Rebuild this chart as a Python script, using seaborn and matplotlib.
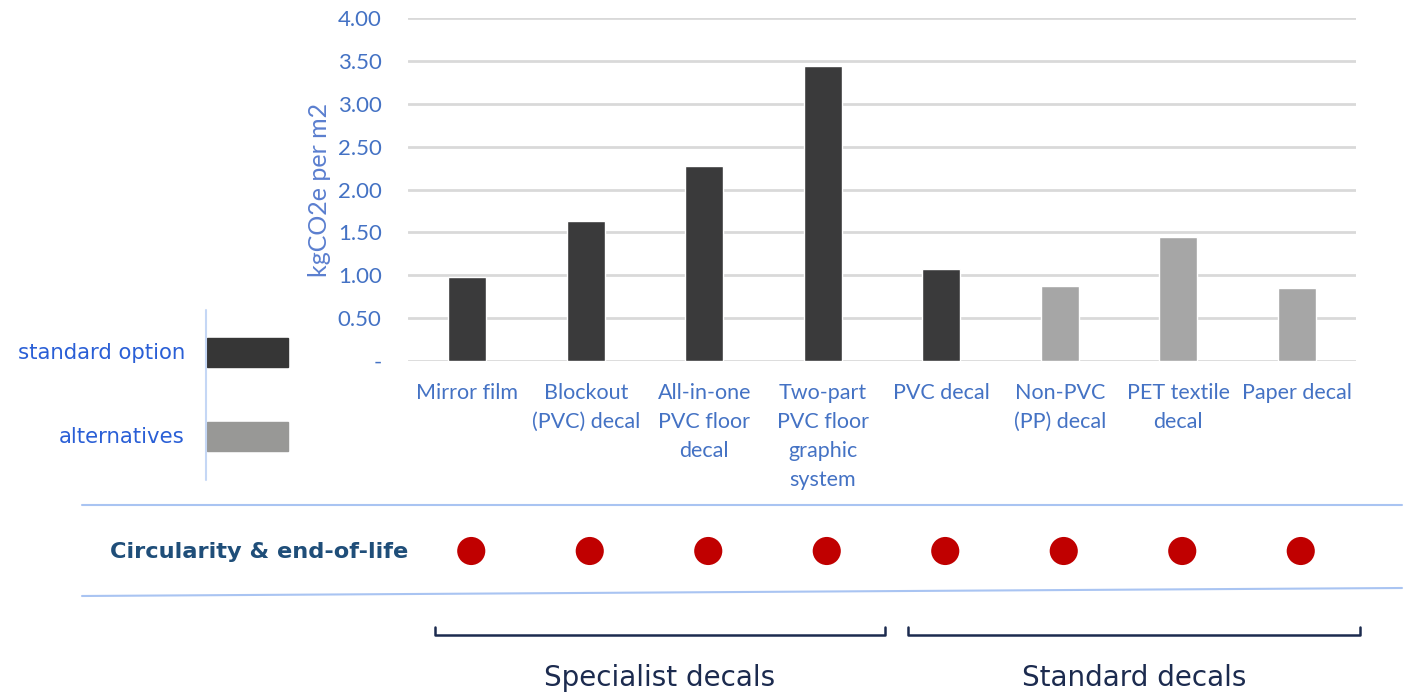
import matplotlib
matplotlib.use("Agg")
import matplotlib.pyplot as plt
import seaborn as sns
import pandas as pd
from matplotlib.patches import Rectangle
from matplotlib.lines import Line2D

categories = ["Mirror film", "Blockout\n(PVC) decal", "All-in-one\nPVC floor\ndecal",
              "Two-part\nPVC floor\ngraphic\nsystem", "PVC decal", "Non-PVC\n(PP) decal",
              "PET textile\ndecal", "Paper decal"]
values = [0.98, 1.63, 2.27, 3.44, 1.07, 0.88, 1.45, 0.85]
option_type = ["standard", "standard", "standard", "standard", "standard",
               "alternative", "alternative", "alternative"]
circularity = [1, 1, 1, 1, 1, 1, 1, 1]
yticks = [0, 0.5, 1.0, 1.5, 2.0, 2.5, 3.0, 3.5, 4.0]
ytick_labels = ["-", "0.50", "1.00", "1.50", "2.00", "2.50", "3.00", "3.50", "4.00"]
legend_labels = ["standard option", "alternatives"]
group_labels = ["Specialist decals", "Standard decals"]

W, H = 1409, 694
sns.set_theme(style="white")
plt.rcParams['font.family'] = ['Lato', 'DejaVu Sans']

fig = plt.figure(figsize=(W / 100, H / 100), dpi=100)

def fpos(x0, y0, x1, y1):
    return [x0 / W, 1 - y1 / H, (x1 - x0) / W, (y1 - y0) / H]

tick_blue = "#4472C4"
dark = "#3a3a3b"
light = "#a6a6a6"

df = pd.DataFrame({"cat": categories, "val": values, "type": option_type})

ax = fig.add_axes(fpos(408, 18, 1356, 361))
sns.barplot(data=df, x="cat", y="val", hue="type", dodge=False, width=0.32,
            palette={"standard": dark, "alternative": light}, legend=False, ax=ax,
            saturation=1)
ax.set_ylim(0, 4)
ax.set_xlim(-0.5, len(categories) - 0.5)
ax.set_yticks(yticks)
ax.set_yticklabels(ytick_labels)
ax.yaxis.grid(True, color="#d9d9d9", linewidth=2)
ax.set_axisbelow(True)
for s in ax.spines.values():
    s.set_visible(False)
ax.tick_params(axis="y", length=0, pad=19, labelsize=16, labelcolor=tick_blue)
ax.tick_params(axis="x", length=0, pad=16, labelsize=15.5, labelcolor=tick_blue)
for lab in ax.get_xticklabels():
    lab.set_linespacing(1.55)
    lab.set_verticalalignment("top")
ax.set_xlabel("")
ax.set_ylabel("kgCO2e per m2", fontsize=18, color="#5b7fcf")
ax.yaxis.set_label_coords(-(408 - 331) / 948, 0.5)

# circularity row
ax2 = fig.add_axes(fpos(412, 530, 1360, 572))
cdf = pd.DataFrame({"cat": list(range(len(categories))), "y": circularity})
sns.scatterplot(data=cdf, x="cat", y="y", color="#C00000", s=410, edgecolor="none", ax=ax2)
ax2.set_xlim(-0.5, len(categories) - 0.5)
ax2.set_ylim(0, 2)
ax2.axis("off")

# overlay for annotations
ov = fig.add_axes([0, 0, 1, 1])
ov.set_xlim(0, W)
ov.set_ylim(H, 0)
ov.axis("off")

line_blue = "#a9c4f2"
ov.add_line(Line2D([82, 1402], [505, 505], color=line_blue, lw=1.5))
ov.add_line(Line2D([82, 1402], [596, 588], color=line_blue, lw=1.5))
ov.text(408, 552, "Circularity & end-of-life", ha="right", va="center",
        fontsize=16.2, fontweight="bold", color="#1f4e79", family=["DejaVu Sans"])

# legend
ov.add_line(Line2D([206, 206], [310, 480], color="#c5d7f5", lw=1.5))
ov.add_patch(Rectangle((207, 338), 81, 29, color="#363636"))
ov.add_patch(Rectangle((207, 422), 81, 29, color="#989896"))
leg_blue = "#2a5fd6"
ov.text(185, 353, legend_labels[0], ha="right", va="center", fontsize=15.3,
        color=leg_blue, family=["DejaVu Sans"])
ov.text(185, 437, legend_labels[1], ha="right", va="center", fontsize=15.3,
        color=leg_blue, family=["DejaVu Sans"])

# brackets
navy = "#1c2b4f"
for (x0, x1), lab in zip([(435, 885), (908, 1360)], group_labels):
    ov.add_line(Line2D([x0, x0, x1, x1], [627, 635, 635, 627], color=navy, lw=1.8))
    ov.text((x0 + x1) / 2, 678, lab, ha="center", va="center", fontsize=20,
            color=navy, family=["DejaVu Sans"])

fig.savefig("out.png", dpi=100)
